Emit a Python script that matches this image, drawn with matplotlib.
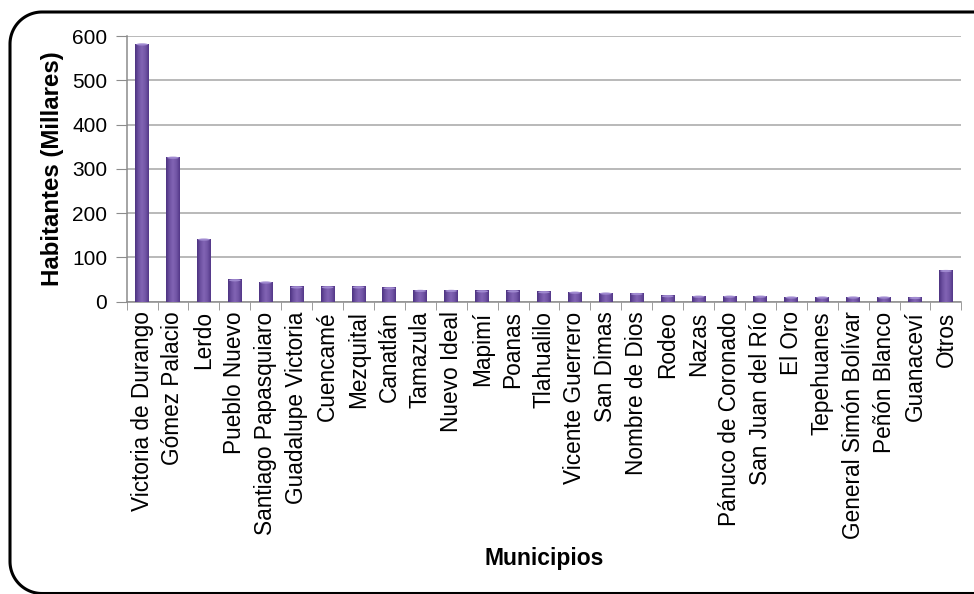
import numpy as np
import matplotlib.pyplot as plt
from matplotlib.patches import Ellipse
from matplotlib.lines import Line2D
from matplotlib.colors import LinearSegmentedColormap

# poblacion por municipio (miles de habitantes)
municipios = ['Victoria de Durango', 'Gómez Palacio', 'Lerdo', 'Pueblo Nuevo',
              'Santiago Papasquiaro', 'Guadalupe Victoria', 'Cuencamé', 'Mezquital',
              'Canatlán', 'Tamazula', 'Nuevo Ideal', 'Mapimí', 'Poanas', 'Tlahualilo',
              'Vicente Guerrero', 'San Dimas', 'Nombre de Dios', 'Rodeo', 'Nazas',
              'Pánuco de Coronado', 'San Juan del Río', 'El Oro', 'Tepehuanes',
              'General Simón Bolívar', 'Peñón Blanco', 'Guanaceví', 'Otros']
habitantes = [583, 327, 142, 50, 45, 34, 34, 34, 32, 26, 26, 25, 25, 23,
              22, 20, 19, 14, 13, 13, 13, 11, 11, 11, 11, 10, 71]

plt.rcParams['font.family'] = 'Liberation Sans'
plt.rcParams['savefig.bbox'] = 'standard'

fig = plt.figure(figsize=(9.74, 5.94), dpi=100)
ax = fig.add_axes([0.130, 0.492, 0.857, 0.447])

# marco redondeado (pulgadas): arriba, izquierda y abajo; el lado derecho queda fuera
izq, arr, aba, r = 0.10, 5.82, 0.005, 0.32
t = np.linspace(0, np.pi / 2, 30)
mx = np.concatenate([[9.8], izq + r - r * np.sin(t), izq + r - r * np.cos(t), [9.8]])
my = np.concatenate([[arr], arr - r + r * np.cos(t), aba + r - r * np.sin(t), [aba]])
fig.lines.append(Line2D(mx, my, transform=fig.dpi_scale_trans, color='black',
                        linewidth=2.2, solid_capstyle='butt'))

x = np.arange(len(municipios))
ancho = 0.45
ax.bar(x, habitantes, width=ancho, color='#644898', zorder=2)

# efecto de cilindro: gradiente horizontal y tapa clara
cmap = LinearSegmentedColormap.from_list('cil', ['#4c3280', '#6e52a2', '#8264b4', '#7256a6', '#533788'])
grad = np.linspace(0, 1, 64).reshape(1, -1)
for xi, h in zip(x, habitantes):
    ax.imshow(grad, cmap=cmap, aspect='auto', zorder=3,
              extent=[xi - ancho/2, xi + ancho/2, 0, h], interpolation='bilinear')
    ax.add_patch(Ellipse((xi, h - 1.5), ancho * 0.85, 5, color='#a08ad0', zorder=4, lw=0))

ax.set_xlim(-0.5, len(municipios) - 0.5)
ax.set_ylim(0, 600)
ax.set_yticks(np.arange(0, 601, 100))
ax.yaxis.grid(True, color='#a6a6a6', linewidth=1.1, zorder=0)
ax.set_axisbelow(True)

ax.set_xticks(x)
ax.set_xticklabels(municipios, rotation=90, fontsize=16.3)
ax.set_xticks(np.arange(-0.5, len(municipios)), minor=True)
ax.tick_params(axis='x', which='major', length=0, pad=7)
ax.tick_params(axis='x', which='minor', length=6, color='#8c8c8c', direction='out')
ax.tick_params(axis='y', length=8, color='#8c8c8c', labelsize=15, pad=6)

for lado in ['top', 'right']:
    ax.spines[lado].set_visible(False)
for lado in ['left', 'bottom']:
    ax.spines[lado].set_color('#8c8c8c')
    ax.spines[lado].set_linewidth(1.1)

ax.set_ylabel('Habitantes (Millares)', fontsize=17.3, fontweight='bold', labelpad=6)
fig.text(0.559, 0.06, 'Municipios', fontsize=16.5, fontweight='bold', ha='center', va='center')

fig.savefig('out.png', dpi=100)
